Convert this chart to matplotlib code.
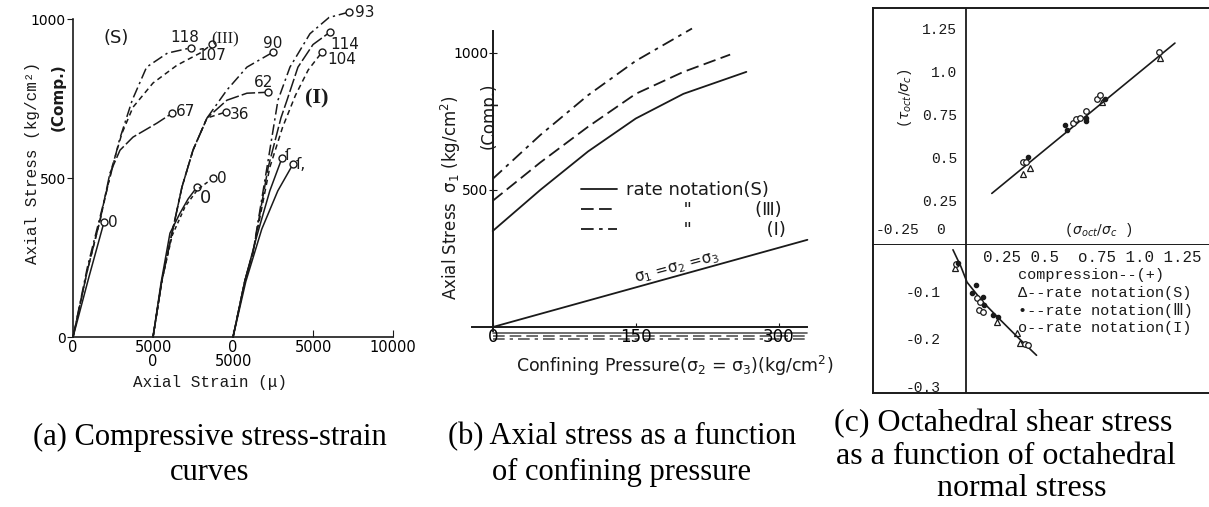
import matplotlib.pyplot as plt

W, H = 1209, 507
plt.rcParams['font.family'] = 'DejaVu Sans'
plt.rcParams['lines.solid_capstyle'] = 'round'
INK = '#1a1a1a'
MONO = ['Liberation Mono', 'DejaVu Sans Mono', 'DejaVu Sans']
SERIF = ['Liberation Serif', 'DejaVu Serif']

# ---------- (a) stress-strain curves, strain in micro-strain ----------
# family (III) is drawn from +5000, family (I) from +10000 on the same axis
s_dd_x = [0, 900, 1700, 2300, 2900, 3700, 4600, 5900, 7400]
s_dd_y = [0, 220, 380, 500, 620, 745, 849, 893, 910]
s_da_x = [0, 900, 1700, 2440, 3060, 3750, 5000, 6500, 7940, 8690]
s_da_y = [0, 210, 370, 535, 641, 723, 799, 855, 893, 921]
s_ld_x = [0, 900, 1700, 2310, 2940, 3750, 5250, 6190]
s_ld_y = [0, 210, 370, 516, 588, 629, 673, 704]
s_so_x = [0, 1000, 1940]
s_so_y = [0, 190, 362]

m_dd_x = [5000, 5560, 6200, 6810, 7500, 8375, 9620, 10870, 12500]
m_dd_y = [0, 179, 330, 472, 588, 689, 777, 849, 896]
m_ld_x = [5000, 5560, 6200, 6810, 7500, 8375, 9620, 10870, 12190]
m_ld_y = [0, 179, 330, 472, 588, 689, 745, 767, 770]
m_da_x = [5000, 5560, 6200, 6810, 7500, 8375, 9560]
m_da_y = [0, 179, 330, 472, 588, 689, 708]
m_so_x = [5000, 5500, 6060, 6690, 7200, 7750]
m_so_y = [0, 170, 327, 390, 435, 472]
m_sd_x = [5000, 5560, 6200, 7000, 7800, 8750]
m_sd_y = [0, 179, 320, 410, 465, 500]

i_dd_x = [10000, 10750, 11250, 12125, 12810, 13560, 14810, 16000, 17250]
i_dd_y = [0, 179, 267, 534, 745, 849, 954, 1005, 1022]
i_ld_x = [10000, 10750, 11250, 12200, 13000, 13375, 14060, 15000, 16060]
i_ld_y = [0, 179, 267, 534, 690, 745, 849, 920, 959]
i_da_x = [10000, 10750, 11250, 12300, 13100, 13900, 14700, 15560]
i_da_y = [0, 179, 267, 534, 660, 760, 840, 896]
i_s1_x = [10000, 10750, 11500, 12300, 13060]
i_s1_y = [0, 179, 320, 460, 563]
i_s2_x = [10000, 10800, 11800, 12800, 13750]
i_s2_y = [0, 175, 340, 460, 544]

a_xticks = [0, 5000, 10000, 15000, 20000]
a_xlabels = ['0', '5000\n0', '0\n5000', '5000', '10000']
a_yticks = [0, 500, 1000]

# ---------- (b) axial stress vs confining pressure ----------
b_p_s = [0, 50, 100, 150, 200, 266]
b_s_s = [350, 500, 640, 760, 850, 930]
b_p_3 = [0, 50, 100, 150, 200, 249]
b_s_3 = [460, 600, 730, 850, 930, 993]
b_p_1 = [0, 50, 100, 150, 209]
b_s_1 = [540, 700, 845, 970, 1088]
hydro_p = [0, 330]
hydro_s = [0, 318]
b_xticks = [0, 150, 300]
b_yticks = [500, 1000]

# ---------- (c) octahedral stresses ----------
fit_up_x = [0.15, 1.215]
fit_up_y = [0.30, 1.174]
up_tri_x = [0.33, 0.37, 0.79, 1.13]
up_tri_y = [0.41, 0.45, 0.83, 1.09]
up_cir_x = [0.33, 0.35, 0.62, 0.64, 0.66, 0.70, 0.76, 0.78, 1.12]
up_cir_y = [0.48, 0.48, 0.71, 0.73, 0.74, 0.78, 0.85, 0.87, 1.12]
up_dot_x = [0.36, 0.575, 0.59, 0.70, 0.70, 0.81]
up_dot_y = [0.51, 0.70, 0.67, 0.74, 0.72, 0.85]

fit_lo_x = [-0.076, -0.03, 0.006, 0.10, 0.20, 0.30, 0.41]
fit_lo_y = [-0.010, -0.045, -0.078, -0.12, -0.157, -0.193, -0.231]
lo_tri_x = [-0.064, 0.18, 0.297, 0.314]
lo_tri_y = [-0.048, -0.161, -0.184, -0.205]
lo_cir_x = [-0.058, 0.064, 0.081, 0.076, 0.099, 0.343, 0.36]
lo_cir_y = [-0.040, -0.111, -0.119, -0.136, -0.140, -0.207, -0.210]
lo_dot_x = [-0.047, 0.035, 0.058, 0.099, 0.105, 0.157, 0.186]
lo_dot_y = [-0.038, -0.100, -0.084, -0.109, -0.126, -0.147, -0.151]
c_up_ticks = [0.25, 0.5, 0.75, 1.0, 1.25]
c_up_labels = ['0.25', '0.5', '0.75', '1.0', '1.25']
c_lo_ticks = [-0.1, -0.2, -0.3]
c_lo_labels = ['-0.1', '-0.2', '-0.3']

DD = (0, (7, 2.5, 1.5, 2.5))
DA = (0, (3.5, 2.5))
LD = (0, (9, 2))
SD = (0, (2.5, 2))

fig = plt.figure(figsize=(W / 100, H / 100), dpi=100)


def px_axes(x0, y0, x1, y1):
    return fig.add_axes([x0 / W, 1 - y1 / H, (x1 - x0) / W, (y1 - y0) / H])


def ftext(x, y, s, **kw):
    fig.text(x / W, 1 - y / H, s, **kw)


# ================= panel (a) =================
axa = px_axes(41, 0, 417, 369)
axa.set_xlim(-2000, 21500)
axa.set_ylim(-100, 1060)
for side in ['top', 'right']:
    axa.spines[side].set_visible(False)
axa.spines['left'].set_position(('data', 0))
axa.spines['left'].set_bounds(0, 1000)
axa.spines['bottom'].set_position(('data', 0))
axa.spines['bottom'].set_bounds(0, 20000)
for sp in axa.spines.values():
    sp.set_linewidth(1.2)
    sp.set_color(INK)
axa.set_xticks(a_xticks, a_xlabels, fontsize=10.5, linespacing=0.95)
axa.set_yticks(a_yticks, [str(v) for v in a_yticks], fontsize=10)
axa.tick_params(axis='x', direction='in', length=5, pad=2, color=INK)
axa.tick_params(axis='y', direction='out', length=4, pad=1, color=INK)

curves_a = [
    (s_dd_x, s_dd_y, DD, '118', (-5, 7), 'center'),
    (s_da_x, s_da_y, DA, '107', (0, -8), 'center'),
    (s_ld_x, s_ld_y, LD, '67', (3, 1), 'left'),
    (s_so_x, s_so_y, '-', '0', (3, 0), 'left'),
    (m_dd_x, m_dd_y, DD, '90', (0, 6), 'center'),
    (m_ld_x, m_ld_y, LD, '62', (-3, 7), 'center'),
    (m_da_x, m_da_y, DA, '36', (3, -2), 'left'),
    (m_so_x, m_so_y, '-', '0', (6, -8), 'center'),
    (m_sd_x, m_sd_y, SD, '0', (3, 0), 'left'),
    (i_dd_x, i_dd_y, DD, '93', (4, 0), 'left'),
    (i_ld_x, i_ld_y, LD, '114', (0, -9), 'left'),
    (i_da_x, i_da_y, DA, '104', (4, -5), 'left'),
    (i_s1_x, i_s1_y, '-', 'ſ', (2, 2), 'left'),
    (i_s2_x, i_s2_y, '-', 'ſ,', (2, 0), 'left'),
]
for x, y, ls, lab, off, ha in curves_a:
    axa.plot(x, y, color=INK, lw=1.1, ls=ls)
    axa.plot(x[-1], y[-1], 'o', ms=5, mfc='white', mec=INK, mew=1.0)
    fs = 13 if (lab == '0' and off == (6, -8)) else 11
    axa.annotate(lab, (x[-1], y[-1]), xytext=off, textcoords='offset points',
                 ha=ha, va='center', fontsize=fs, color=INK)

ftext(116, 38, '(S)', fontsize=13, ha='center', va='center', color=INK)
ftext(225, 39, '(III)', fontsize=12, ha='center', va='center', color=INK, family=SERIF)
ftext(317, 98, '(I)', fontsize=16, ha='center', va='center', color=INK,
      family=SERIF, weight='bold')
ftext(33, 163, 'Axial Stress (kg/cm²)', rotation=90, fontsize=11.5, ha='center',
      va='center', family=MONO, color=INK)
ftext(58, 97, '(Comp.)', rotation=90, fontsize=11, ha='center', va='center',
      weight='bold', color=INK)
ftext(210, 383, 'Axial Strain (μ)', fontsize=11.5, ha='center', va='center',
      family=MONO, color=INK)

# ================= panel (b) =================
axb = px_axes(445, 17, 836, 360)
axb.set_xlim(-50, 360)
axb.set_ylim(-120, 1130)
for side in ['top', 'right']:
    axb.spines[side].set_visible(False)
axb.spines['left'].set_position(('data', 0))
axb.spines['left'].set_bounds(-15, 1080)
axb.spines['bottom'].set_position(('data', 0))
axb.spines['bottom'].set_bounds(-22, 330)
for sp in axb.spines.values():
    sp.set_linewidth(1.4)
    sp.set_color(INK)
axb.set_xticks(b_xticks, [str(v) for v in b_xticks], fontsize=12)
axb.set_yticks(b_yticks, [str(v) for v in b_yticks], fontsize=10)
axb.tick_params(axis='x', direction='in', length=3, pad=1, color=INK)
axb.tick_params(axis='y', direction='inout', length=6, pad=0, color=INK)

hs = axb.plot(b_p_s, b_s_s, color=INK, lw=1.3, ls='-')[0]
h3 = axb.plot(b_p_3, b_s_3, color=INK, lw=1.3, ls=(0, (7, 3)))[0]
h1 = axb.plot(b_p_1, b_s_1, color=INK, lw=1.3, ls=(0, (7, 3, 2, 3)))[0]
axb.plot(hydro_p, hydro_s, color=INK, lw=1.3)
# smeared copies of the curves under the axis in the scan
for off, ls in [(-22, '-'), (-32, (0, (7, 3))), (-44, (0, (7, 3, 2, 3)))]:
    axb.plot(hydro_p, [off, off], color='#555555', lw=1.2, ls=ls, zorder=0)
axb.text(193, 215, 'σ$_1$ =σ$_2$ =σ$_3$', rotation=15, fontsize=11, ha='center',
         va='center', color=INK)
leg = axb.legend([hs, h3, h1],
                 ['rate notation(S)', '          "           (Ⅲ)',
                  '          "             (I)'],
                 loc='upper left', bbox_to_anchor=(581 / W, 1 - 181 / H),
                 bbox_transform=fig.transFigure, frameon=False, fontsize=13,
                 handlelength=2.0, handletextpad=0.5, labelspacing=0.12,
                 borderpad=0, borderaxespad=0)
for t in leg.get_texts():
    t.set_color(INK)

ftext(451, 198, 'Axial Stress  σ$_1$ (kg/cm$^2$)', rotation=90, fontsize=12,
      ha='center', va='center', color=INK)
ftext(489, 116, '(Comp.)', rotation=90, fontsize=12, ha='center', va='center',
      color=INK)
ftext(675, 366, 'Confining Pressure(σ$_2$ = σ$_3$)(kg/cm$^2$)', fontsize=12.5,
      ha='center', va='center', color=INK)

# ================= panel (c) =================
xl = (-0.541, 1.448)
axc1 = px_axes(873, 8, 1215, 245)
axc2 = px_axes(873, 245, 1215, 393)
axc1.set_xlim(*xl)
axc1.set_ylim(0, 1.378)
axc2.set_xlim(*xl)
axc2.set_ylim(-0.31, 0)
for ax in (axc1, axc2):
    ax.set_xticks([])
    ax.set_yticks([])
    ax.spines['right'].set_visible(False)
    for sp in ax.spines.values():
        sp.set_linewidth(1.4)
        sp.set_color(INK)
    ax.axvline(0, color=INK, lw=1.3)
axc2.spines['top'].set_visible(False)

axc1.plot(fit_up_x, fit_up_y, color=INK, lw=1.2)
axc1.plot(up_tri_x, up_tri_y, '^', ms=5, mfc='none', mec=INK, mew=0.9)
axc1.plot(up_cir_x, up_cir_y, 'o', ms=4, mfc='white', mec=INK, mew=0.9)
axc1.plot(up_dot_x, up_dot_y, 'o', ms=3, color=INK)
axc2.plot(fit_lo_x, fit_lo_y, color=INK, lw=1.2)
axc2.plot(lo_tri_x, lo_tri_y, '^', ms=5, mfc='none', mec=INK, mew=0.9)
axc2.plot(lo_cir_x, lo_cir_y, 'o', ms=4, mfc='white', mec=INK, mew=0.9)
axc2.plot(lo_dot_x, lo_dot_y, 'o', ms=3, color=INK)

for v, s in zip(c_up_ticks, c_up_labels):
    axc1.text(-0.05, v, s, ha='right', va='center', fontsize=10.5, family=MONO,
              color=INK)
for v, s in zip(c_lo_ticks, c_lo_labels):
    axc2.text(-0.15, v, s, ha='right', va='center', fontsize=10.5, family=MONO,
              color=INK)
axc1.text(-0.15, 0.087, '0', ha='center', va='center', fontsize=10.5, family=MONO,
          color=INK)
axc1.text(-0.525, 0.087, '-0.25', ha='left', va='center', fontsize=10.5,
          family=MONO, color=INK)
axc1.text(0.77, 0.087, r'($\sigma_{oct}/\sigma_c$ )', ha='center', va='center',
          fontsize=10, family=MONO, color=INK)
axc1.text(-0.355, 0.855, r'($\tau_{oct}/\sigma_c$)', rotation=90, ha='center',
          va='center', fontsize=10, family=MONO, color=INK)
axc2.text(0.1, -0.027, '0.25 0.5  o.75 1.0 1.25', ha='left', va='center',
          fontsize=11.3, family=MONO, color=INK)
c_legend = ['compression--(+)', 'Δ--rate notation(S)', '•--rate notation(Ⅲ)',
            'o--rate notation(I)']
for i, s in enumerate(c_legend):
    axc2.text(0.30, -0.063 - 0.037 * i, s, ha='left', va='center', fontsize=11,
              family=MONO, color=INK)

# ================= captions =================
cap = dict(fontsize=22, family=SERIF, va='center', color='black')
ftext(210, 437, '(a) Compressive stress-strain', ha='center', **cap)
ftext(210, 472, 'curves', ha='center', **cap)
ftext(622, 437, '(b) Axial stress as a function', ha='center', **cap)
ftext(622, 472, 'of confining pressure', ha='center', **cap)
capc = dict(cap, fontsize=23)
ftext(834, 424, '(c) Octahedral shear stress', ha='left', **capc)
ftext(836, 456, 'as a function of octahedral', ha='left', **capc)
ftext(1022, 489, 'normal stress', ha='center', **capc)

fig.savefig('out.png', dpi=100)
